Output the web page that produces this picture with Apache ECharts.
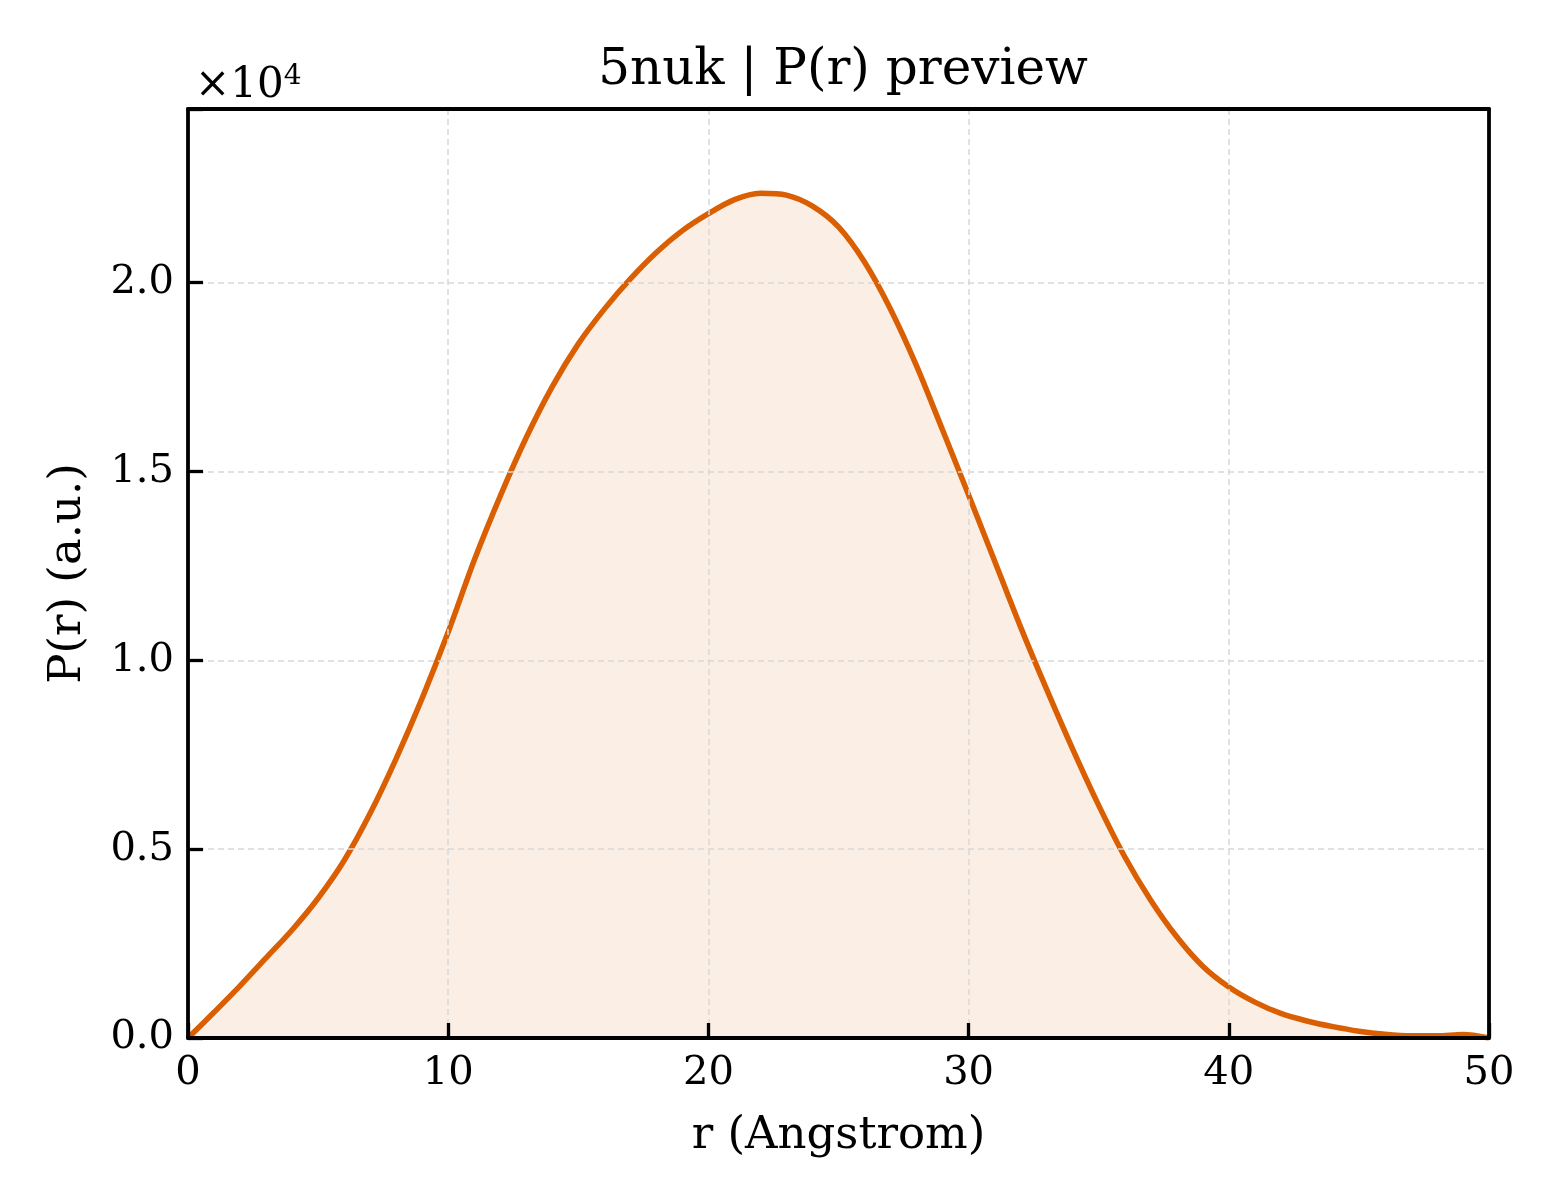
<!DOCTYPE html>
<html>
<head>
<meta charset="utf-8">
<script src="https://cdn.jsdelivr.net/npm/echarts@6/dist/echarts.min.js"></script>
<style>
html,body{margin:0;padding:0;background:#fff;}
#chart{width:1560px;height:1200px;}
</style>
</head>
<body>
<div id="chart"></div>
<script>
// r values (Angstrom)
const rValues = [0,1,2,3,4,5,6,7,8,9,10,11,12,13,14,15,16,17,18,19,20,21,22,23,24,25,26,27,28,29,30,31,32,33,34,35,36,37,38,39,40,41,42,43,44,45,46,47,48,49,50];
// P(r) values (a.u.)
const pValues = [0,680,1380,2120,2860,3700,4700,5950,7400,9000,10750,12650,14350,15900,17250,18380,19300,20100,20800,21380,21830,22200,22370,22320,22030,21480,20550,19300,17800,16100,14380,12630,10880,9230,7650,6160,4800,3650,2680,1900,1350,950,650,450,300,180,100,60,60,90,0];
const xTicks = [0,10,20,30,40,50];
const yTicks = [0,5000,10000,15000,20000];

const FONT = 'DejaVu Serif';
const data = rValues.map((r,i)=>[r,pValues[i]]);

const borderAxis = {
  show:true, z:5,
  axisLine:{show:true,onZero:false,lineStyle:{color:'#000',width:3.8}},
  axisTick:{show:false}, axisLabel:{show:false}, splitLine:{show:false}
};

const chart = echarts.init(document.getElementById('chart'));
chart.setOption({
  backgroundColor:'#ffffff',
  animation:false,
  title:[
    {text:'5nuk | P(r) preview', left:838, top:41, textAlign:'center',
     textStyle:{fontFamily:FONT,fontSize:50,fontWeight:'normal',color:'#000'}},
    {text:'{a|×10}{b|4}', left:190, top:58,
     textStyle:{fontWeight:'normal',rich:{a:{fontFamily:FONT,fontSize:42,fontWeight:'normal',color:'#000',verticalAlign:'bottom'},
                      b:{fontFamily:FONT,fontSize:28,fontWeight:'normal',color:'#000',verticalAlign:'top',padding:[0,0,16,0]}}}}
  ],
  grid:{left:188,top:109,width:1301,height:929,show:false},
  xAxis:[{
    type:'value',min:0,max:50,interval:10,z:4,
    name:'r (Angstrom)',nameLocation:'middle',nameGap:76,
    nameTextStyle:{fontFamily:FONT,fontSize:45,color:'#000'},
    axisLine:{show:true,onZero:false,lineStyle:{color:'#000',width:3.8}},
    axisTick:{show:true,inside:true,length:15,lineStyle:{color:'#000',width:3.3}},
    axisLabel:{fontFamily:FONT,fontSize:40,color:'#000',margin:16,
      formatter:v=>xTicks.includes(v)?String(v):''},
    splitLine:{show:true,lineStyle:{color:'#d8d8d8',width:1.5,type:[6,4]}}
  },Object.assign({type:'value',min:0,max:50,position:'top'},borderAxis)],
  yAxis:[{
    type:'value',min:0,max:24600,interval:5000,z:4,
    name:'P(r) (a.u.)',nameLocation:'middle',nameGap:97,
    nameTextStyle:{fontFamily:FONT,fontSize:45,color:'#000'},
    axisLine:{show:true,onZero:false,lineStyle:{color:'#000',width:3.8}},
    axisTick:{show:true,inside:true,length:15,lineStyle:{color:'#000',width:3.3}},
    axisLabel:{fontFamily:FONT,fontSize:40,color:'#000',margin:14,
      formatter:v=>yTicks.includes(v)?(v/1e4).toFixed(1):''},
    splitLine:{show:true,lineStyle:{color:'#d8d8d8',width:1.5,type:[6,4]}}
  },Object.assign({type:'value',min:0,max:24600,position:'right'},borderAxis)],
  series:[{
    type:'line',data:data,showSymbol:false,smooth:0.3,
    xAxisIndex:0,yAxisIndex:0,
    lineStyle:{color:'#d95f02',width:5.5},
    itemStyle:{color:'#d95f02'},
    areaStyle:{color:'rgba(217,95,2,0.15)'}
  }]
});
</script>
</body>
</html>
